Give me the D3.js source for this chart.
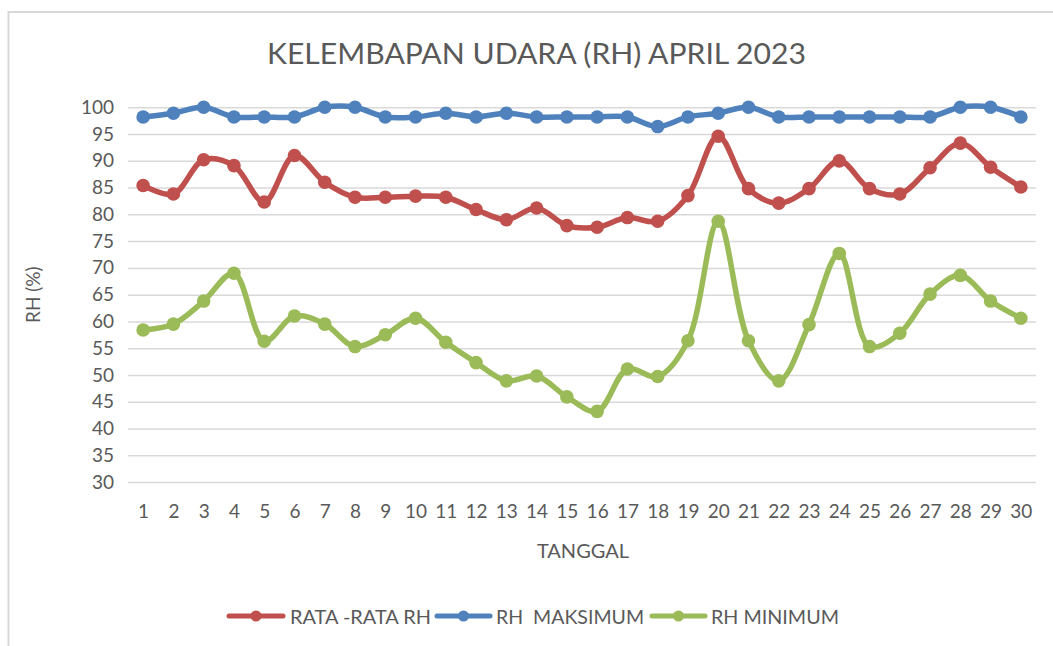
<!DOCTYPE html>
<html>
<head>
<meta charset="utf-8">
<script src="https://cdn.jsdelivr.net/npm/d3@7"></script>
<style>
  html, body { margin: 0; padding: 0; background: #ffffff; }
  svg { display: block; }
  text { font-family: Lato, "Open Sans", "Liberation Sans", sans-serif; fill: #595959; }
</style>
</head>
<body>
<svg id="chart" width="1053" height="646"></svg>
<script>
const titleText = "KELEMBAPAN UDARA (RH) APRIL 2023";
const xAxisTitle = "TANGGAL";
const yAxisTitle = "RH (%)";
const days = ["1","2","3","4","5","6","7","8","9","10","11","12","13","14","15","16","17","18","19","20","21","22","23","24","25","26","27","28","29","30"];
const yTicks = [30,35,40,45,50,55,60,65,70,75,80,85,90,95,100];
const seriesNames = ["RATA -RATA RH", "RH  MAKSIMUM", "RH MINIMUM"];
const seriesColors = ["#C0504D", "#4F81BD", "#9BBB59"];
const avgRH = [85.4,83.8,90.2,89.1,82.3,91.0,86.0,83.2,83.2,83.4,83.2,80.9,79.0,81.2,77.9,77.6,79.4,78.7,83.5,94.6,84.8,82.1,84.8,90.0,84.8,83.8,88.7,93.3,88.8,85.1];
const maxRH = [98.2,98.9,100,98.2,98.2,98.2,100,100,98.2,98.2,98.9,98.2,98.9,98.2,98.2,98.2,98.2,96.4,98.2,98.9,100,98.2,98.2,98.2,98.2,98.2,98.2,100,100,98.2];
const minRH = [58.4,59.5,63.8,69.0,56.3,61.0,59.5,55.3,57.5,60.6,56.1,52.3,48.9,49.8,45.9,43.2,51.1,49.7,56.4,78.7,56.4,48.9,59.4,72.7,55.3,57.8,65.1,68.6,63.8,60.6];
const seriesValues = [avgRH, maxRH, minRH];

const svg = d3.select("#chart");
const W = 1053, H = 646;

// chart frame (extends past right and bottom edges as in reference)
svg.append("rect").attr("x", 8.5).attr("y", 12).attr("width", W + 20).attr("height", H + 20)
  .attr("fill", "#ffffff").attr("stroke", "#d9d9d9").attr("stroke-width", 2);

const plot = { left: 128, right: 1036, top: 107.3, bottom: 482 };

const x = d3.scalePoint().domain(days).range([plot.left, plot.right]).padding(0.5);
const y = d3.scaleLinear().domain([30, 100]).range([plot.bottom, plot.top]);

// title
svg.append("text").attr("x", 536.5).attr("y", 64).attr("text-anchor", "middle")
  .attr("font-size", 29).attr("font-weight", 400)
  .attr("textLength", 539).attr("lengthAdjust", "spacingAndGlyphs")
  .text(titleText);

// gridlines
const yAxis = d3.axisLeft(y).tickValues(yTicks).tickSize(-(plot.right - plot.left)).tickPadding(14).tickFormat(d3.format("d"));
const gy = svg.append("g").attr("transform", `translate(${plot.left},0)`).call(yAxis);
gy.select(".domain").remove();
gy.selectAll(".tick line").attr("stroke", "#d9d9d9").attr("stroke-width", 1.5);
gy.selectAll(".tick text").attr("font-size", 19).attr("fill", "#595959")
  .style("font-family", "Lato, 'Open Sans', sans-serif");

// x axis labels
const xAxis = d3.axisBottom(x).tickSize(0).tickPadding(0);
const gx = svg.append("g").attr("transform", `translate(0,${plot.bottom})`).call(xAxis);
gx.select(".domain").remove();
gx.selectAll(".tick text").attr("font-size", 19).attr("fill", "#595959").attr("dy", "0").attr("y", 36)
  .style("font-family", "Lato, 'Open Sans', sans-serif");

// axis titles
svg.append("text").attr("x", 583).attr("y", 558).attr("text-anchor", "middle")
  .attr("font-size", 20).text(xAxisTitle);
svg.append("text").attr("transform", `translate(40,${(plot.top + plot.bottom) / 2}) rotate(-90)`)
  .attr("text-anchor", "middle").attr("font-size", 19).text(yAxisTitle);

// series
const line = d3.line().x((d, i) => x(days[i])).y(d => y(d)).curve(d3.curveCatmullRom.alpha(0.5));
seriesValues.forEach((vals, s) => {
  const g = svg.append("g");
  g.append("path").datum(vals).attr("d", line).attr("fill", "none")
    .attr("stroke", seriesColors[s]).attr("stroke-width", 5.5).attr("stroke-linejoin", "round").attr("stroke-linecap", "round");
  g.selectAll("circle").data(vals).join("circle")
    .attr("cx", (d, i) => x(days[i])).attr("cy", d => y(d)).attr("r", 6.8)
    .attr("fill", seriesColors[s]);
});

// legend
const legendItems = [
  { lx1: 229, lx2: 283, tx: 290, tw: 141 },
  { lx1: 437, lx2: 490, tx: 496, tw: 148 },
  { lx1: 652, lx2: 705, tx: 711, tw: 128 }
];
const ly = 616;
legendItems.forEach((it, i) => {
  const g = svg.append("g");
  g.append("line").attr("x1", it.lx1).attr("x2", it.lx2).attr("y1", ly).attr("y2", ly)
    .attr("stroke", seriesColors[i]).attr("stroke-width", 5).attr("stroke-linecap", "round");
  g.append("circle").attr("cx", (it.lx1 + it.lx2) / 2).attr("cy", ly).attr("r", 5.5).attr("fill", seriesColors[i]);
  g.append("text").attr("x", it.tx).attr("y", ly + 7.5).attr("font-size", 20)
    .attr("textLength", it.tw).attr("lengthAdjust", "spacingAndGlyphs")
    .style("white-space", "pre").attr("xml:space", "preserve")
    .text(seriesNames[i]);
});
</script>
</body>
</html>
